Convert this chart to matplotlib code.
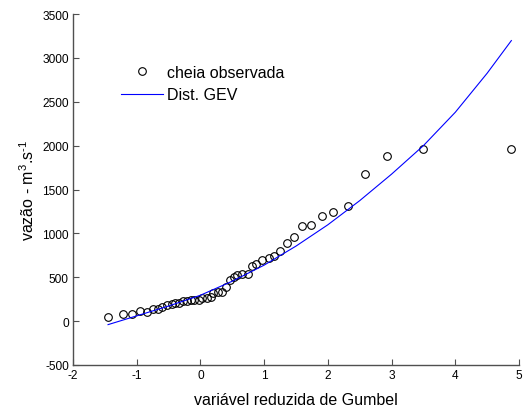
import matplotlib
matplotlib.use("Agg")
import matplotlib.pyplot as plt

plt.rcParams['font.family'] = ['Liberation Sans', 'DejaVu Sans']
plt.rcParams['axes.unicode_minus'] = False
plt.rcParams['mathtext.fontset'] = 'custom'
plt.rcParams['mathtext.rm'] = 'Liberation Sans'
plt.rcParams['mathtext.default'] = 'regular'

obs_x = [-1.455, -1.21, -1.07, -0.943, -0.843, -0.739, -0.66, -0.607, -0.52, -0.45,
         -0.40, -0.33, -0.27, -0.21, -0.15, -0.10, -0.03, 0.03, 0.10, 0.16,
         0.20, 0.27, 0.34, 0.40, 0.465, 0.52, 0.58, 0.65, 0.74, 0.805,
         0.88, 0.96, 1.07, 1.16, 1.25, 1.355, 1.475, 1.595, 1.74, 1.91,
         2.077, 2.31, 2.58, 2.935, 3.50, 4.87]
obs_q = [42, 76, 83, 110, 106, 133, 140, 163, 182, 194,
         202, 202, 225, 232, 236, 243, 240, 262, 266, 277,
         316, 334, 334, 384, 471, 505, 521, 533, 533, 624,
         650, 699, 722, 745, 795, 893, 955, 1087, 1091, 1194,
         1240, 1308, 1673, 1885, 1965, 1965]

# fitted GEV curve
gev_x = [-1.45, -1.0, -0.5, 0.0, 0.5, 1.0, 1.5, 2.0, 2.5, 3.0, 3.5, 4.0, 4.5, 4.88]
gev_q = [-40, 60, 172, 295, 455, 638, 855, 1098, 1373, 1675, 2000, 2380, 2825, 3197]

fig = plt.figure(figsize=(5.27, 4.10), dpi=100)
ax = fig.add_axes([73/527, 1 - 366/410, 446/527, 351/410])

ax.plot(obs_x, obs_q, 'o', mfc='none', mec='black', ms=5.5, mew=0.8, label='cheia observada')
ax.plot(gev_x, gev_q, '-', color='#0000ff', lw=0.8, label='Dist. GEV')

ax.set_xlim(-2, 5)
ax.set_ylim(-500, 3500)
ax.set_xticks(range(-2, 6))
ax.set_yticks(range(-500, 3501, 500))

for s in ['top', 'right']:
    ax.spines[s].set_visible(False)
for s in ['left', 'bottom']:
    ax.spines[s].set_color('#505050')
    ax.spines[s].set_linewidth(1.0)
ax.tick_params(direction='in', length=4, width=0.8, color='#505050', labelsize=8.6, pad=3)

ax.set_xlabel('variável reduzida de Gumbel', fontsize=11.5, labelpad=8)
ax.set_ylabel(r'vazão - m$^3$.s$^{\text{-}1}$', fontsize=11.5, labelpad=4)

ax.legend(loc='upper left', bbox_to_anchor=(121/527, 1 - 66/410), bbox_transform=fig.transFigure,
          frameon=False, fontsize=11.5, borderpad=0, handlelength=2.6, handletextpad=0.3,
          labelspacing=0.45, borderaxespad=0)

fig.savefig('out.png', dpi=100)
